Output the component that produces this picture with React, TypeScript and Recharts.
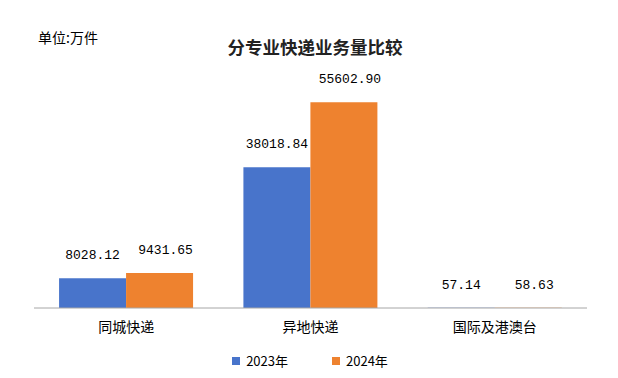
import React from 'react';
import { BarChart, Bar, XAxis, YAxis, LabelList } from 'recharts';

const categories = ['同城快递', '异地快递', '国际及港澳台'];
const values2023 = [8028.12, 38018.84, 57.14];
const values2024 = [9431.65, 55602.9, 58.63];
const seriesNames = ['2023年', '2024年'];

const COLORS = ['#4874cb', '#ee822f'];
const CJK = '"Noto Sans CJK SC", "Noto Sans", sans-serif';
const labelStyle = { fill: '#000', fontSize: 13, fontFamily: '"Liberation Mono", monospace' };

const data = categories.map((name, i) => ({
  name,
  y2023: values2023[i],
  y2024: values2024[i],
}));

const fmt = (v: any) => Number(v).toFixed(2);

const App: React.FC = () => {
  return (
    <div style={{ position: 'absolute', left: 0, top: 0, width: 618, height: 378, background: '#fff', fontFamily: CJK }}>
      <div style={{ position: 'absolute', left: 38, top: 27, fontSize: 14, color: '#000', lineHeight: '20px' }}>
        单位:万件
      </div>
      <div
        style={{
          position: 'absolute',
          left: 0,
          width: 630,
          top: 35,
          textAlign: 'center',
          fontSize: 17.5,
          fontWeight: 700,
          color: '#222',
          lineHeight: '24px',
        }}
      >
        分专业快递业务量比较
      </div>
      <BarChart
        width={618}
        height={378}
        data={data}
        margin={{ top: 86, right: 31, bottom: 40, left: 34 }}
        barCategoryGap="13.6%"
        barGap={0}
      >
        <XAxis
          dataKey="name"
          height={30}
          tickLine={false}
          axisLine={{ stroke: '#a6a6a6' }}
          tick={{ fill: '#000', fontSize: 14, fontFamily: CJK }}
          tickMargin={8}
        />
        <YAxis hide domain={[0, 60000]} />
        <Bar dataKey="y2023" name={seriesNames[0]} fill={COLORS[0]} isAnimationActive={false}>
          <LabelList dataKey="y2023" position="top" offset={19} formatter={fmt} style={labelStyle} />
        </Bar>
        <Bar dataKey="y2024" name={seriesNames[1]} fill={COLORS[1]} isAnimationActive={false}>
          <LabelList dataKey="y2024" position="top" offset={19} dx={6} formatter={fmt} style={labelStyle} />
        </Bar>
      </BarChart>
      <div style={{ position: 'absolute', top: 352, left: 0, width: 618, display: 'flex', justifyContent: 'center', fontSize: 13, color: '#000' }}>
        {seriesNames.map((s, i) => (
          <div key={s} style={{ display: 'flex', alignItems: 'center', marginLeft: i === 0 ? 2 : 44, lineHeight: '18px' }}>
            <span style={{ display: 'inline-block', width: 8, height: 8, background: COLORS[i], marginRight: 6 }} />
            {s}
          </div>
        ))}
      </div>
    </div>
  );
};

export default App;
